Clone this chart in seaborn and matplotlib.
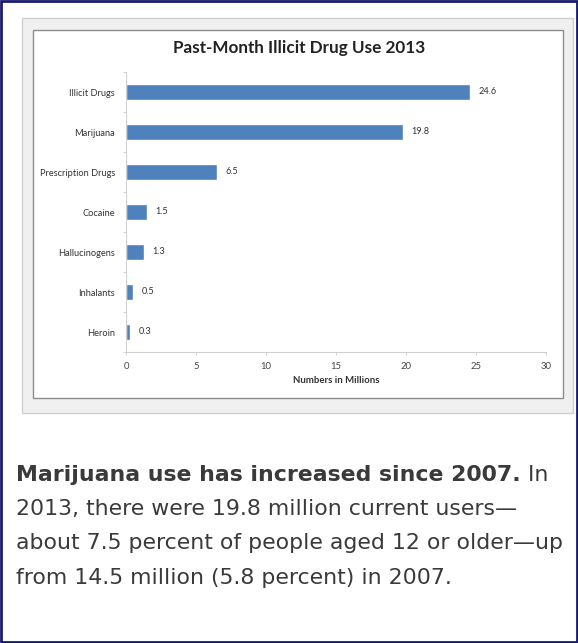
import matplotlib
matplotlib.use("Agg")
import matplotlib.pyplot as plt
from matplotlib.patches import Rectangle
from matplotlib.ticker import FixedLocator
import seaborn as sns

# ── data ───────────────────────────────────────────────
drugs = ["Illicit Drugs", "Marijuana", "Prescription Drugs", "Cocaine",
         "Hallucinogens", "Inhalants", "Heroin"]
users = [24.6, 19.8, 6.5, 1.5, 1.3, 0.5, 0.3]
x_ticks = [0, 5, 10, 15, 20, 25, 30]

caption_bold = "Marijuana use has increased since 2007."
caption_lines = [" In",
                 "2013, there were 19.8 million current users\u2014",
                 "about 7.5 percent of people aged 12 or older\u2014up",
                 "from 14.5 million (5.8 percent) in 2007."]

W, H = 578, 643
sns.set_theme(style="white")
plt.rcParams["font.family"] = ["Lato", "DejaVu Sans"]

fig = plt.figure(figsize=(W / 100, H / 100), dpi=100)
fig.patch.set_facecolor("white")


def box(x0, y0, x1, y1, fc, ec, lw=1.0, z=0):
    # pixel coords from top-left -> figure fraction
    r = Rectangle((x0 / W, 1 - y1 / H), (x1 - x0) / W, (y1 - y0) / H,
                  transform=fig.transFigure, facecolor=fc, edgecolor=ec,
                  linewidth=lw, zorder=z)
    fig.add_artist(r)


# outer page border, grey panel, white chart box
box(1, 1, 577, 642, "white", "#1a1a6e", lw=2.0, z=-3)
box(22, 18, 573, 413, "#f0f0f0", "#cfcfcf", lw=1.0, z=-2)
box(33, 30, 563, 398, "white", "#8c8c8c", lw=1.0, z=-1)

ax = fig.add_axes([126 / W, 1 - 352 / H, 420 / W, 280 / H])
ax.patch.set_alpha(0)
sns.barplot(x=users, y=drugs, orient="h", color="#4f81bd", width=0.4,
            saturation=1, ax=ax)
ax.bar_label(ax.containers[0], labels=[f"{v:.1f}" for v in users],
             padding=6, fontsize=6.6, color="#333333")

ax.set_xlim(0, 30)
ax.set_ylim(6.5, -0.5)
ax.set_xticks(x_ticks)
ax.set_xticklabels([str(t) for t in x_ticks], fontsize=6.8, color="#444444")
ax.tick_params(axis="x", length=2, width=0.6, color="#cccccc", pad=5)
ax.tick_params(axis="y", which="major", length=0, pad=8, labelsize=6.7,
               labelcolor="#333333")
ax.yaxis.set_minor_locator(FixedLocator([i - 0.5 for i in range(8)]))
ax.tick_params(axis="y", which="minor", length=2, width=0.6, color="#cccccc",
               left=True)
ax.tick_params(axis="x", bottom=True)
for side in ["top", "right"]:
    ax.spines[side].set_visible(False)
for side in ["left", "bottom"]:
    ax.spines[side].set_color("#d0d0d0")
    ax.spines[side].set_linewidth(0.8)
ax.set_ylabel("")
ax.set_xlabel("Numbers in Millions", fontsize=6.9, fontweight="bold",
              color="#333333", labelpad=4)

fig.text(299 / W, 1 - 48 / H, "Past-Month Illicit Drug Use 2013",
         ha="center", va="center", fontsize=12.3, fontweight="bold",
         color="#222222")

# caption paragraph
cap_kw = dict(fontsize=15.8, color="#3a3a3a", family="DejaVu Sans",
              va="center", ha="left")
line_y = [475, 509, 543, 578]
tb = fig.text(16 / W, 1 - line_y[0] / H, caption_bold, fontweight="bold",
              **cap_kw)
fig.canvas.draw()
bb = tb.get_window_extent(fig.canvas.get_renderer())
fig.text(bb.x1 / W, 1 - line_y[0] / H, caption_lines[0], **cap_kw)
for yy, line in zip(line_y[1:], caption_lines[1:]):
    fig.text(16 / W, 1 - yy / H, line, **cap_kw)

fig.savefig("out.png", dpi=100)
